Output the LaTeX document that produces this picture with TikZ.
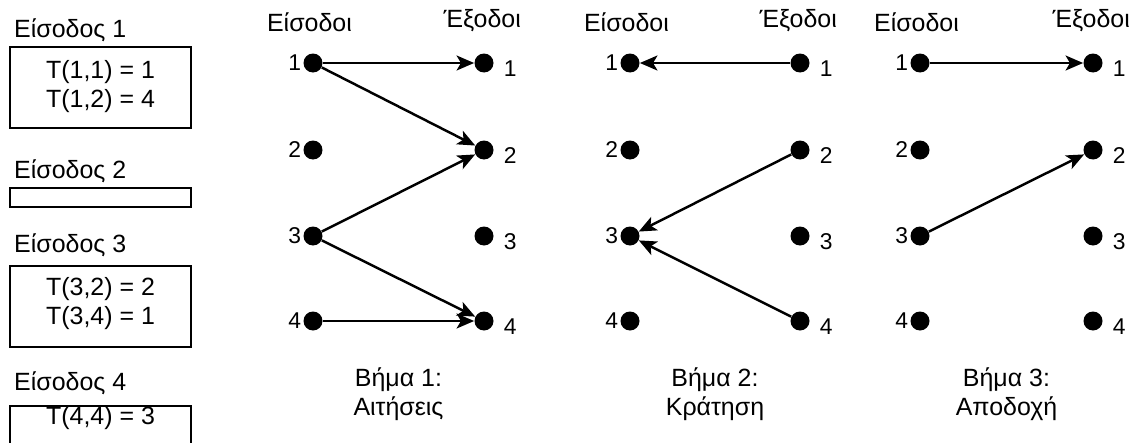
\documentclass[tikz,border=0pt]{standalone}
\usepackage{fontspec}
\setmainfont{Liberation Sans}
\usetikzlibrary{positioning,arrows.meta}
\tikzstyle{pixelGrid} = [x = 0.02cm, y = -0.02cm]
\tikzstyle{portDot} = [circle, fill=black, inner sep=0pt, minimum size=0.38cm]
\tikzstyle{portLabel} = [font=\fontsize{13}{15}\selectfont, inner sep=1pt]
\tikzstyle{headText} = [font=\fontsize{14.2}{16.5}\selectfont]
\tikzstyle{grantArrow} = [-{Stealth[length=10pt, width=8.5pt, inset=2.5pt]}, line width=1.4pt]
\tikzstyle{queueBox} = [line width=0.9pt]
\newcommand{\switchPanel}[5]{
  \foreach \port/\rowY in {1/63,2/150,3/236,4/321} {
    \node [portDot, label={[portLabel]left:\port}] (#1-in\port) at (#2,\rowY) {};
    \node [portDot, label={[portLabel, label distance=4.5pt, yshift=-3pt]right:\port}] (#1-out\port) at (#3,\rowY) {};
  }
  \node [headText, above=0.3cm of #1-in1, xshift=-2pt] (#1-inHead) {Είσοδοι};
  \node [headText, above=0.3cm of #1-out1, xshift=-1pt] (#1-outHead) {Έξοδοι};
  \node [headText, align=center] (#1-caption) at ({(#2+#3)/2},394) {#4\\#5};
}

\begin{document}
\begin{tikzpicture}[pixelGrid]
  \useasboundingbox (0,0) rectangle (1137,443);
  \clip (0,0) rectangle (1137,443);

  % request queues of the inputs
  \node [headText, anchor=west] (queueHead1) at (8,30) {Είσοδος 1};
  \draw [queueBox] (10,47) rectangle (191,128);
  \node [headText, align=center] (queueList1) at (100.5,87) {T(1,1) = 1\\T(1,2) = 4};

  \node [headText, anchor=west] (queueHead2) at (8,171) {Είσοδος 2};
  \draw [queueBox] (10,188) rectangle (191,207);

  \node [headText, anchor=west] (queueHead3) at (8,245) {Είσοδος 3};
  \draw [queueBox] (10,266) rectangle (191,347);
  \node [headText, align=center] (queueList3) at (100.5,304) {T(3,2) = 2\\T(3,4) = 1};

  \node [headText, anchor=west] (queueHead4) at (8,383) {Είσοδος 4};
  \draw [queueBox] (10,406) rectangle (191,470);
  \node [headText] (queueList4) at (100.5,418) {T(4,4) = 3};

  % step 1: requests
  \switchPanel{req}{313}{484}{Βήμα 1:}{Αιτήσεις}
  \draw [grantArrow] (req-in1) -- (req-out1);
  \draw [grantArrow] (req-in1) -- (req-out2);
  \draw [grantArrow] (req-in3) -- (req-out2);
  \draw [grantArrow] (req-in3) -- (req-out4);
  \draw [grantArrow] (req-in4) -- (req-out4);

  % step 2: grants
  \switchPanel{gnt}{630}{800}{Βήμα 2:}{Κράτηση}
  \draw [grantArrow] (gnt-out1) -- (gnt-in1);
  \draw [grantArrow] (gnt-out2) -- (gnt-in3);
  \draw [grantArrow] (gnt-out4) -- (gnt-in3);

  % step 3: accepts
  \switchPanel{acc}{920}{1093}{Βήμα 3:}{Αποδοχή}
  \draw [grantArrow] (acc-in1) -- (acc-out1);
  \draw [grantArrow] (acc-in3) -- (acc-out2);
\end{tikzpicture}
\end{document}
